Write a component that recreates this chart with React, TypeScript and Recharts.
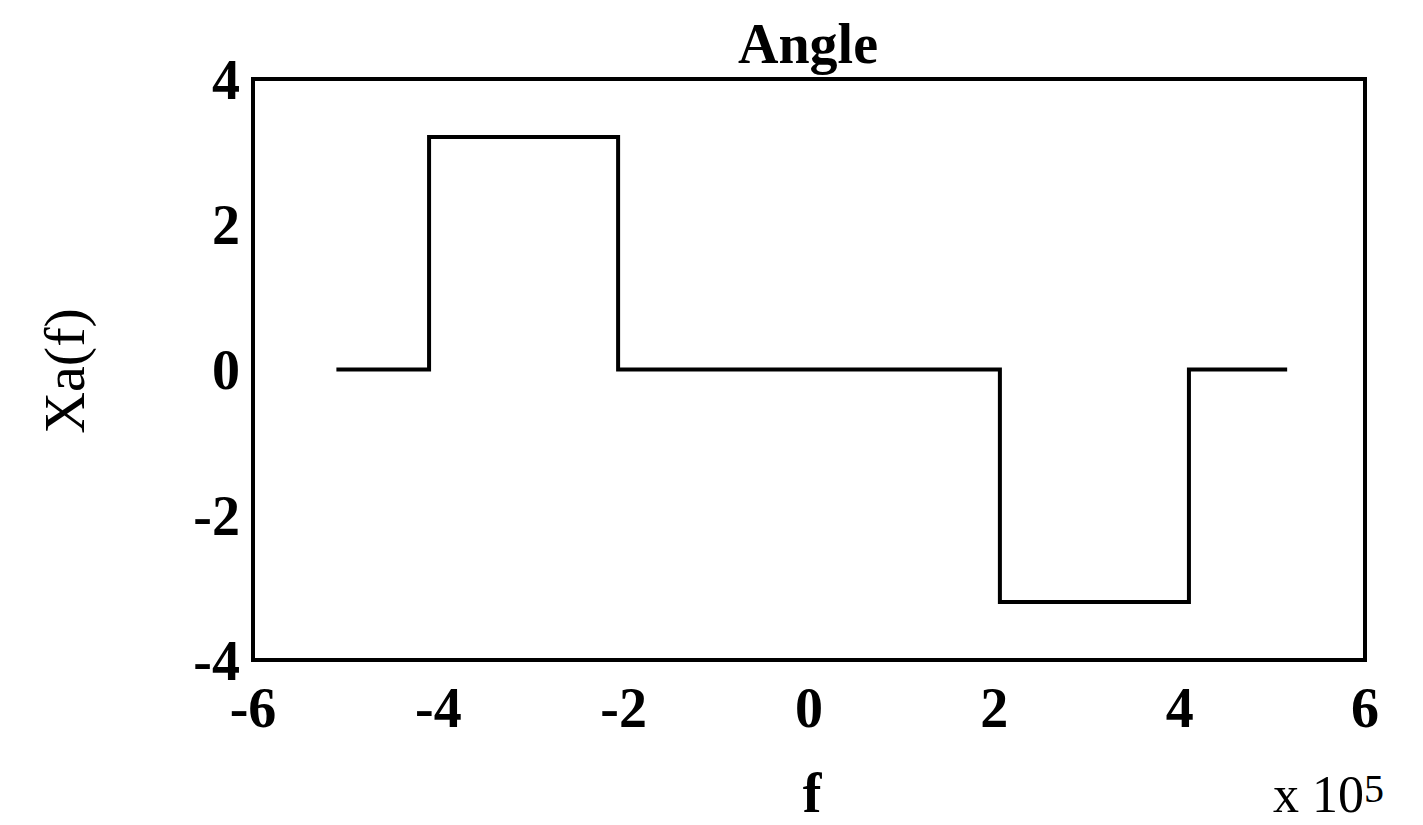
import React from "react";
import { LineChart, Line, XAxis, YAxis, ReferenceArea } from "recharts";

// Frequency (×10^5) and phase angle of the spectrum, as a step trace
const freq = [-5.1, -4.1, -4.1, -2.06, -2.06, 2.06, 2.06, 4.1, 4.1, 5.16];
const angle = [0, 0, 3.2, 3.2, 0, 0, -3.2, -3.2, 0, 0];
const xTicks = [-6, -4, -2, 0, 2, 4, 6];
const yTicks = [-4, -2, 0, 2, 4];

const data = freq.map((f, i) => ({ f, a: angle[i] }));

const FONT = "'Liberation Serif', 'Times New Roman', serif";
const W = 1423;
const H = 825;

export default function App() {
  const tickStyle = { fill: "#000", fontFamily: FONT, fontSize: 56, fontWeight: 700 };
  return (
    <div style={{ position: "absolute", left: 0, top: 0, width: W, height: H, background: "#fff" }}>
      <LineChart
        width={W}
        height={H}
        data={data}
        margin={{ top: 79, right: 58, bottom: 105, left: 173 }}
      >
        <XAxis
          type="number"
          dataKey="f"
          domain={[-6, 6]}
          ticks={xTicks}
          allowDataOverflow
          axisLine={false}
          tickLine={false}
          tickSize={0}
          tickMargin={27}
          height={60}
          tick={tickStyle}
        />
        <YAxis
          type="number"
          domain={[-4, 4]}
          ticks={yTicks}
          allowDataOverflow
          axisLine={false}
          tickLine={false}
          tickSize={0}
          tickMargin={13}
          width={80}
          tick={tickStyle}
        />
        <ReferenceArea
          x1={-6}
          x2={6}
          y1={-4}
          y2={4}
          fill="none"
          fillOpacity={0}
          stroke="#000"
          strokeWidth={4}
          ifOverflow="visible"
        />
        <Line
          type="linear"
          dataKey="a"
          stroke="#000"
          strokeWidth={4}
          dot={false}
          activeDot={false}
          isAnimationActive={false}
        />
      </LineChart>
      <svg
        width={W}
        height={H}
        style={{ position: "absolute", left: 0, top: 0, pointerEvents: "none" }}
      >
        <text x={808} y={63} textAnchor="middle" fontFamily={FONT} fontSize={56} fontWeight={700}>
          Angle
        </text>
        <text
          x={84}
          y={371}
          textAnchor="middle"
          transform="rotate(-90, 84, 371)"
          fontFamily={FONT}
          fontSize={58}
        >
          Xa(f)
        </text>
        <text x={812} y={812} textAnchor="middle" fontFamily={FONT} fontSize={56} fontWeight={700}>
          f
        </text>
        <text x={1273} y={812} fontFamily={FONT} fontSize={52}>
          {"x 10"}
          <tspan dy={-10} fontSize={40}>5</tspan>
        </text>
      </svg>
    </div>
  );
}
